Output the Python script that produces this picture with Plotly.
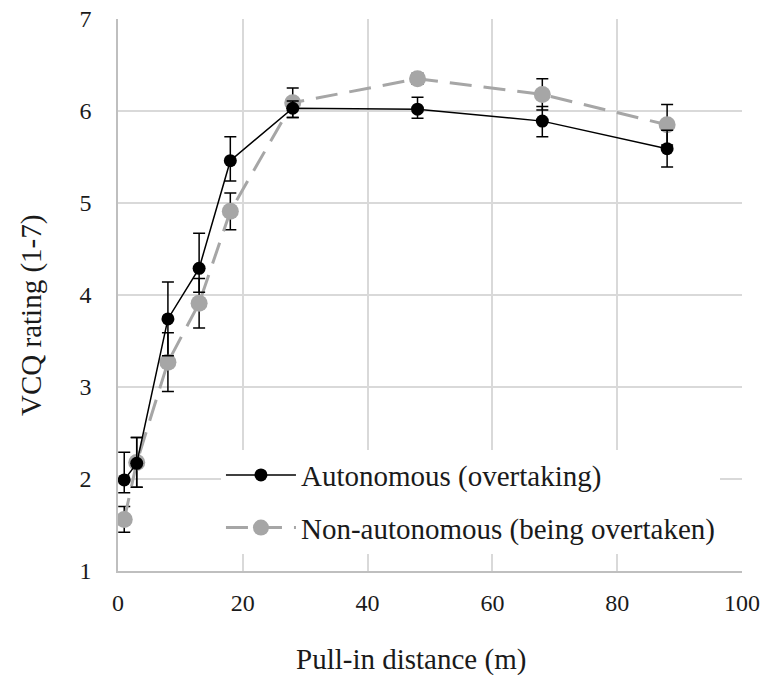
import plotly.graph_objects as go

# pull-in distance (m)
distance = [1, 3, 8, 13, 18, 28, 48, 68, 88]

# autonomous (overtaking)
auto_mean = [1.99, 2.17, 3.74, 4.29, 5.46, 6.03, 6.02, 5.89, 5.59]
auto_err_up = [0.30, 0.28, 0.40, 0.38, 0.26, 0.08, 0.13, 0.16, 0.20]
auto_err_down = [0.14, 0.26, 0.40, 0.26, 0.22, 0.10, 0.10, 0.17, 0.20]

# non-autonomous (being overtaken)
nonauto_mean = [1.56, 2.18, 3.27, 3.91, 4.91, 6.09, 6.35, 6.18, 5.85]
nonauto_err = [0.14, 0.27, 0.32, 0.27, 0.20, 0.16, 0.06, 0.17, 0.22]

FONT = "Liberation Serif, Times New Roman, serif"
TEXT = "#1a1a1a"

fig = go.Figure()

# grey series first so the black one sits on top
fig.add_trace(go.Scatter(
    x=distance, y=nonauto_mean,
    mode="lines+markers",
    name="Non-autonomous (being overtaken)",
    legendgroup="b", legendrank=2,
    line=dict(color="#a6a6a6", width=3, dash="22px,12px"),
    marker=dict(color="#a6a6a6", size=17),
    error_y=dict(type="data", array=nonauto_err, color="black",
                 thickness=1.5, width=6),
))

fig.add_trace(go.Scatter(
    x=distance, y=auto_mean,
    mode="lines+markers",
    name="Autonomous (overtaking)",
    legendgroup="a", legendrank=1,
    line=dict(color="black", width=1.5),
    marker=dict(color="black", size=13),
    error_y=dict(type="data", symmetric=False, array=auto_err_up,
                 arrayminus=auto_err_down, color="black",
                 thickness=1.5, width=6),
))

fig.update_layout(
    width=762, height=675,
    margin=dict(l=118, r=20, t=19, b=104),
    paper_bgcolor="white", plot_bgcolor="white",
    font=dict(family=FONT, size=24, color=TEXT),
    showlegend=True,
    legend=dict(
        x=0.165, y=0.22, xanchor="left", yanchor="top",
        bgcolor="white", font=dict(size=29, color=TEXT),
        tracegroupgap=12, itemwidth=70,
    ),
    xaxis=dict(
        range=[0, 100], tickvals=[0, 20, 40, 60, 80, 100],
        showgrid=True, gridcolor="#d9d9d9", gridwidth=1.5,
        showline=True, linecolor="#bfbfbf", linewidth=1.5,
        zeroline=False, ticks="", ticklabelstandoff=9, automargin=False,
        ticklabeloverflow="allow",
    ),
    yaxis=dict(
        range=[1, 7], tickvals=[1, 2, 3, 4, 5, 6, 7],
        showgrid=True, gridcolor="#d9d9d9", gridwidth=1.5,
        showline=True, linecolor="#bfbfbf", linewidth=1.5,
        zeroline=False, ticks="", ticklabelstandoff=20, automargin=False,
        ticklabeloverflow="allow",
    ),
)

# axis titles sit off-centre in the original, so place them as annotations
fig.add_annotation(
    text="Pull-in distance (m)", xref="paper", yref="paper",
    x=0.47, y=0, yshift=-88, xanchor="center", yanchor="middle",
    showarrow=False, font=dict(size=29, color=TEXT),
)
fig.add_annotation(
    text="VCQ rating (1-7)", xref="paper", yref="paper",
    x=0, y=0.462, xshift=-86, xanchor="center", yanchor="middle",
    textangle=-90, showarrow=False, font=dict(size=29, color=TEXT),
)

# drop the default body margin so the figure fills the window exactly
fig.write_html(
    "out.html",
    config={"displayModeBar": False},
    post_script="document.body.style.margin='0';",
)
